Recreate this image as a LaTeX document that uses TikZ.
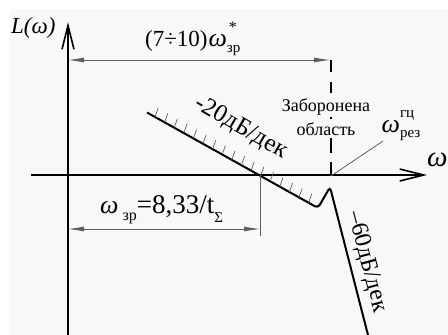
\documentclass[tikz,border=0pt]{standalone}
\usepackage{fontspec}
\usepackage{graphicx}
\setmainfont{Liberation Serif}
\usetikzlibrary{arrows.meta,calc}
\definecolor{bg}{RGB}{248,248,248}
\definecolor{thin}{RGB}{95,95,95}
\newcommand\fs[1]{\fontsize{#1}{#1}\selectfont}
\begin{document}
\begin{tikzpicture}[x=1pt,y=-1pt,
  axis/.style={line width=2pt, -{Straight Barb[length=24pt,width=12pt,line width=1.6pt]}},
  curve/.style={line width=2pt, rounded corners=3.5pt},
  dim/.style={line width=0.8pt, draw=thin, {Latex[length=16pt,width=5pt]}-{Latex[length=16pt,width=5pt]}},
  thinline/.style={line width=0.8pt, draw=thin},
  hatch/.style={line width=0.7pt, draw=thin},
  lbl/.style={inner sep=0pt, font=\fs{23}},
  smalllbl/.style={inner sep=0pt, font=\fs{18}}]
\useasboundingbox (0,0) rectangle (448,335);
\fill[bg] (10,9) rectangle (448,335);
% axes
\coordinate (yb) at (68,335); \coordinate (yt) at (68,22);
\coordinate (xl) at (31,175); \coordinate (xr) at (427,175);
\draw[axis] (yb) -- (yt);
\draw[axis] (xl) -- (xr);
% characteristic
\coordinate (c0) at (147,112.5); \coordinate (c1) at (318,208);
\coordinate (c2) at (330,187); \coordinate (c3) at (368,335);
\draw[curve] (c0) -- (c1) -- (c2) -- (c3);
\foreach \i in {0,...,16}
  \draw[hatch] ($(c0)!{(8+\i*9.6)/171}!(c1)$) -- ++(3.2,-9);
% top dimension
\coordinate (d1a) at (68,60); \coordinate (d1b) at (330,60); \coordinate (d1c) at (331,60);
\coordinate (pk) at (331,176);
\draw[dim] (d1a) -- (d1b);
\draw[line width=2pt, dash pattern=on 12pt off 10pt on 11pt off 24pt on 2pt off 19pt on 15pt off 9pt on 15pt] (d1c) -- (pk);
% lower dimension
\coordinate (d2a) at (68,229); \coordinate (d2b) at (260,229);
\coordinate (e1) at (260,175); \coordinate (e2) at (260,236);
\draw[thinline] (e1) -- (e2);
\draw[dim] (d2a) -- (d2b);
% leader
\coordinate (ldr) at (383,141);
\draw[thinline] (ldr) -- (pk);
% labels
\node[lbl, anchor=base west] (L) at (11,33.5) {\fs{23}\itshape L(ω)};
\node[lbl, anchor=base west] (t1) at (145,46.5) {(7÷10)\kern1pt{\fs{26}\itshape ω}\rlap{\kern2pt\raisebox{14pt}{\fs{16}*}}\raisebox{-6pt}{\fs{15}зр}};
\node[lbl, anchor=base west] (t2) at (100,213) {{\fs{26}\itshape ω}\kern4pt\raisebox{-7pt}{\fs{16}зр}\fs{27}=8,33/t\raisebox{-9pt}{\fs{15}Σ}};
\node[smalllbl, anchor=base] (zab) at (326,111) {Заборонена};
\node[smalllbl, anchor=base] (obl) at (326,135) {область};
\node[lbl, anchor=base west] (wr) at (381.5,132) {{\fs{26}\itshape ω}\rlap{\raisebox{15pt}{\fs{15}гц}}\raisebox{-5pt}{\fs{15}рез}};
\node[lbl, anchor=base west] (wax) at (427,166) {\fs{29}\itshape ω};
\node[lbl, rotate=-30, font=\fs{25}] (s20) at (241,128) {-20дБ/дек};
\node[lbl, rotate=-75, font=\fs{24}] (s60) at (367,262) {–60дБ/дек};
\end{tikzpicture}
\end{document}
